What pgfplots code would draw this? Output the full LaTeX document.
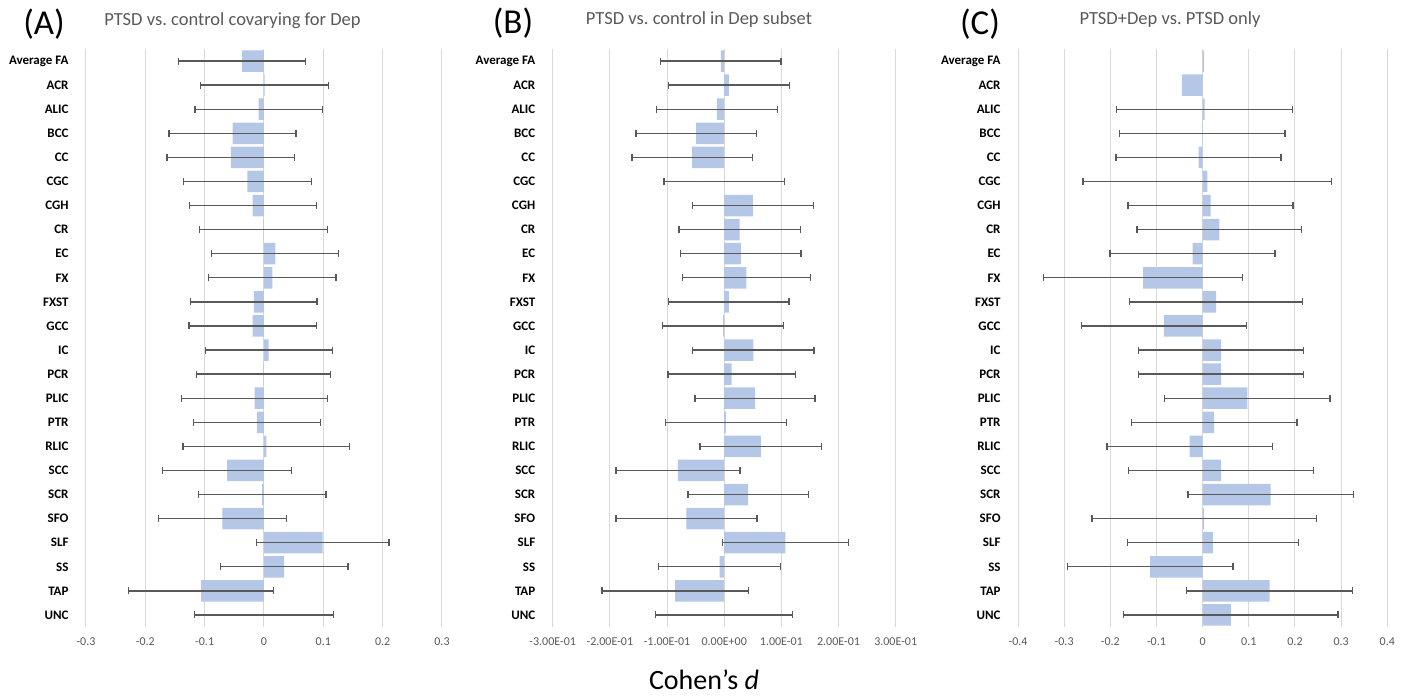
\documentclass[border=0pt]{standalone}
\usepackage{fontspec}
\setmainfont{Carlito}
\usepackage{pgfplots}
\usepackage{pgfplotstable}
\pgfplotsset{compat=1.18}

\definecolor{barblue}{RGB}{180,199,231}
\definecolor{errgray}{RGB}{89,89,89}
\definecolor{gridgray}{RGB}{217,217,217}
\definecolor{textgray}{RGB}{89,89,89}

% i = row, v = Cohen's d, e = half width of the interval
\pgfplotstableread{
i v e
0 -0.037 0.107
1 0.001 0.1075
2 -0.009 0.1075
3 -0.053 0.107
4 -0.056 0.1075
5 -0.028 0.108
6 -0.019 0.107
7 -0.001 0.108
8 0.019 0.107
9 0.014 0.1075
10 -0.017 0.1065
11 -0.019 0.1075
12 0.008 0.107
13 -0.001 0.113
14 -0.016 0.1235
15 -0.012 0.107
16 0.004 0.1405
17 -0.062 0.1085
18 -0.003 0.1075
19 -0.070 0.1075
20 0.099 0.1115
21 0.034 0.1075
22 -0.106 0.122
23 0.000 0.117
}\dataA

\pgfplotstableread{
i v e
0 -0.006 0.1055
1 0.008 0.106
2 -0.013 0.106
3 -0.049 0.1055
4 -0.056 0.1055
5 0.000 0.1055
6 0.050 0.106
7 0.027 0.106
8 0.029 0.1055
9 0.039 0.1115
10 0.008 0.1055
11 -0.002 0.106
12 0.051 0.106
13 0.013 0.1115
14 0.054 0.105
15 0.003 0.106
16 0.064 0.1065
17 -0.081 0.1085
18 0.042 0.1055
19 -0.066 0.1235
20 0.107 0.11
21 -0.008 0.1065
22 -0.086 0.128
23 0.000 0.12
}\dataB

% C: first two rows have no interval
\pgfplotstableread{
i v
0 0.003
1 -0.045
}\dataCtop

\pgfplotstableread{
i v e
2 0.004 0.19
3 -0.001 0.1795
4 -0.009 0.179
5 0.010 0.2695
6 0.017 0.1785
7 0.036 0.1785
8 -0.022 0.1785
9 -0.129 0.2155
10 0.029 0.187
11 -0.084 0.179
12 0.040 0.179
13 0.040 0.179
14 0.097 0.179
15 0.025 0.1795
16 -0.028 0.1795
17 0.040 0.2
18 0.147 0.179
19 0.003 0.243
20 0.022 0.185
21 -0.114 0.1795
22 0.145 0.1795
23 0.061 0.232
}\dataC

\pgfplotsset{
  dtipanel/.style={
    scale only axis, anchor=south west,
    height=578pt,
    xbar, bar width=21.5pt, bar shift=0pt,
    y dir=reverse, ymin=-0.5, ymax=23.5,
    ytick={0,...,23},
    yticklabels={Average FA,ACR,ALIC,BCC,CC,CGC,CGH,CR,EC,FX,FXST,GCC,IC,PCR,PLIC,PTR,RLIC,SCC,SCR,SFO,SLF,SS,TAP,UNC},
    axis line style={draw=none},
    major tick style={draw=none},
    xmajorgrids, grid style={gridgray, line width=1pt},
    yticklabel style={font=\fontsize{13}{15}\selectfont\bfseries, inner sep=0pt, xshift=-13pt},
    xticklabel style={font=\fontsize{12}{14}\selectfont, text=textgray, inner sep=0pt, yshift=-11pt},
    clip=false,
  },
  barerr/.style={
    fill=barblue, draw=none,
    error bars/.cd, x dir=both, x explicit,
    error mark=|,
    error bar style={line width=1.3pt, color=errgray},
    error mark options={errgray, line width=1.3pt, mark size=3.5pt},
  },
}

\begin{document}
\begin{tikzpicture}
\useasboundingbox (0,0) rectangle (1408pt,700pt);

% --- (A) ---
\begin{axis}[dtipanel, at={(86pt,73pt)}, width=356pt,
    xmin=-0.3, xmax=0.3, xtick={-0.3,-0.2,...,0.31},
    xticklabels={-0.3,-0.2,-0.1,0,0.1,0.2,0.3}]
  \addplot[barerr] table[x=v, y=i, x error=e] {\dataA};
\end{axis}

% --- (B) ---
\begin{axis}[dtipanel, at={(552.7pt,73pt)}, width=343pt,
    xmin=-0.3, xmax=0.3, xtick={-0.3,-0.2,...,0.31},
    xticklabels={-3.00E-01,-2.00E-01,-1.00E-01,0.00E+00,1.00E-01,2.00E-01,3.00E-01}]
  \addplot[barerr] table[x=v, y=i, x error=e] {\dataB};
\end{axis}

% --- (C) ---
\begin{axis}[dtipanel, at={(1018pt,73pt)}, width=369.3pt,
    xmin=-0.4, xmax=0.4, xtick={-0.4,-0.3,...,0.41},
    xticklabels={-0.4,-0.3,-0.2,-0.1,0,0.1,0.2,0.3,0.4}]
  \addplot[fill=barblue, draw=none] table[x=v, y=i] {\dataCtop};
  \addplot[barerr] table[x=v, y=i, x error=e] {\dataC};
\end{axis}

% titles and panel letters
\node[font=\fontsize{35}{40}\selectfont] at (44pt,676pt) {(A)};
\node[font=\fontsize{35}{40}\selectfont] at (513pt,677pt) {(B)};
\node[font=\fontsize{35}{40}\selectfont] at (980pt,676pt) {(C)};
\node[font=\fontsize{18.5}{22}\selectfont, text=textgray] at (232.5pt,679pt) {PTSD vs.\ control covarying for Dep};
\node[font=\fontsize{18.5}{22}\selectfont, text=textgray] at (699pt,680pt) {PTSD vs.\ control in Dep subset};
\node[font=\fontsize{18.5}{22}\selectfont, text=textgray] at (1170pt,680pt) {PTSD+Dep vs.\ PTSD only};
\node[font=\fontsize{28}{32}\selectfont] at (704pt,20pt) {Cohen’s \textit{d}};
\end{tikzpicture}
\end{document}
